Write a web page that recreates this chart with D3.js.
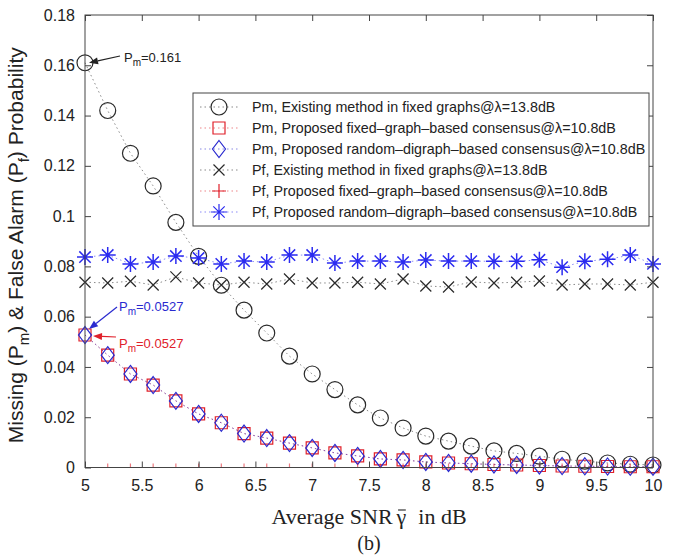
<!DOCTYPE html>
<html>
<head>
<meta charset="utf-8">
<script src="https://cdn.jsdelivr.net/npm/d3@7"></script>
<style>
  body { margin: 0; background: #fff; }
  svg { display: block; }
</style>
</head>
<body>
<svg id="svg"></svg>
<script>
// SNR sweep, 5 dB to 10 dB in 0.2 dB steps
const snr = [5, 5.2, 5.4, 5.6, 5.8, 6, 6.2, 6.4, 6.6, 6.8, 7, 7.2, 7.4, 7.6, 7.8,
             8, 8.2, 8.4, 8.6, 8.8, 9, 9.2, 9.4, 9.6, 9.8, 10];

const pmExisting = [0.161, 0.142, 0.125, 0.112, 0.0975, 0.084, 0.0725, 0.0626, 0.0535, 0.0443,
                    0.0372, 0.031, 0.0249, 0.0197, 0.0157, 0.0125, 0.0105, 0.0085, 0.0066, 0.0056,
                    0.0045, 0.0033, 0.0025, 0.0018, 0.0013, 0.001];
const pmFixed = [0.0527, 0.0447, 0.0372, 0.0328, 0.0265, 0.0213, 0.0178, 0.0135, 0.0117, 0.0097,
                 0.0078, 0.0058, 0.0046, 0.0034, 0.003, 0.0022, 0.0018, 0.0015, 0.0012, 0.001,
                 0.0008, 0.0006, 0.0005, 0.0004, 0.0003, 0.0003];
const pmRandom = pmFixed.slice();
const pfExisting = [0.0737, 0.0734, 0.0741, 0.0726, 0.0758, 0.0734, 0.0726, 0.0737, 0.073, 0.075,
                    0.0734, 0.0734, 0.0737, 0.073, 0.075, 0.0722, 0.0718, 0.0738, 0.0734, 0.0737,
                    0.0742, 0.0726, 0.073, 0.073, 0.0726, 0.0737];
const pfFixed = snr.map(() => 0);
const pfRandom = [0.0837, 0.0845, 0.081, 0.0817, 0.0841, 0.0833, 0.081, 0.0821, 0.0817, 0.0845,
                  0.0845, 0.0813, 0.0821, 0.0821, 0.0817, 0.0825, 0.0821, 0.0821, 0.082, 0.082,
                  0.0826, 0.0797, 0.082, 0.0828, 0.0845, 0.081];

const xTicks = [5, 5.5, 6, 6.5, 7, 7.5, 8, 8.5, 9, 9.5, 10];
const yTicks = [0, 0.02, 0.04, 0.06, 0.08, 0.1, 0.12, 0.14, 0.16, 0.18];

const legendLabels = [
  "Pm, Existing method in fixed graphs@λ=13.8dB",
  "Pm, Proposed fixed–graph–based consensus@λ=10.8dB",
  "Pm, Proposed random–digraph–based consensus@λ=10.8dB",
  "Pf, Existing method in fixed graphs@λ=13.8dB",
  "Pf, Proposed fixed–graph–based consensus@λ=10.8dB",
  "Pf, Proposed random–digraph–based consensus@λ=10.8dB"
];

let layout = {"width": 673, "height": 558,
              "left": 85, "right": 653, "top": 15, "bottom": 467.5};

const svg = d3.select("#svg").attr("width", layout.width).attr("height", layout.height);

svg.append("clipPath").attr("id", "plotClip")
  .append("rect")
  .attr("x", layout.left).attr("y", layout.top)
  .attr("width", layout.right - layout.left).attr("height", layout.bottom - layout.top);

const xScale = d3.scaleLinear().domain([5, 10]).range([layout.left, layout.right]);
const yScale = d3.scaleLinear().domain([0, 0.18]).range([layout.bottom, layout.top]);

const series = [
  {values: pmExisting, color: "#2a2a2a", marker: "circle"},
  {values: pmFixed,    color: "#e0202a", marker: "square"},
  {values: pmRandom,   color: "#2a2acf", marker: "diamond"},
  {values: pfExisting, color: "#2a2a2a", marker: "x"},
  {values: pfFixed,    color: "#e0202a", marker: "plus"},
  {values: pfRandom,   color: "#2b2bf0", marker: "star"}
];

// marker path generators, centered on 0,0
function markerPath(type, legendSize) {
  switch (type) {
    case "circle": return d3.symbol(d3.symbolCircle, 200)();
    case "square": return "M-6,-6H6V6H-6Z";
    case "diamond": return "M0,-8.5L6.5,0L0,8.5L-6.5,0Z";
    case "x": return "M-5.5,-5.5L5.5,5.5M-5.5,5.5L5.5,-5.5";
    case "plus": return legendSize ? "M-7,0H7M0,-7V7" : "M-4,0H4M0,-4V4";
    case "star": return "M-8,0H8M0,-8V8M-5.7,-5.7L5.7,5.7M-5.7,5.7L5.7,-5.7";
  }
}

const line = d3.line().x((d, i) => xScale(snr[i])).y(d => yScale(d));

const marks = svg.append("g").attr("id", "mark");

series.forEach((s, k) => {
  marks.append("path")
    .datum(s.values)
    .attr("d", line)
    .attr("fill", "none")
    .attr("stroke", s.color)
    .attr("stroke-opacity", 0.55)
    .attr("stroke-width", 1)
    .attr("stroke-dasharray", "1.5,3");

  const g = marks.append("g");
  if (s.marker === "plus") g.attr("clip-path", "url(#plotClip)");
  g.selectAll(".m" + k)
    .data(s.values)
    .join("path")
    .attr("class", "m" + k)
    .attr("transform", (d, i) => `translate(${xScale(snr[i])},${yScale(d)})`)
    .attr("d", markerPath(s.marker))
    .attr("fill", "none")
    .attr("stroke", s.color)
    .attr("stroke-opacity", s.marker === "plus" ? 0.6 : 1)
    .attr("stroke-width", s.marker === "star" ? 1.5 : 1.2);
});

// axes box with inward ticks on all four sides
const axisColor = "#444";
const axes = svg.append("g").attr("id", "axes");
axes.append("rect")
  .attr("x", layout.left).attr("y", layout.top)
  .attr("width", layout.right - layout.left).attr("height", layout.bottom - layout.top)
  .attr("fill", "none").attr("stroke", axisColor).attr("stroke-width", 1);

axes.append("g")
  .attr("transform", `translate(0,${layout.bottom})`)
  .call(d3.axisBottom(xScale).tickValues(xTicks).tickSizeInner(-6).tickSizeOuter(0).tickPadding(12).tickFormat(d3.format("")))
  .call(g => g.select(".domain").remove());
axes.append("g")
  .attr("transform", `translate(0,${layout.top})`)
  .call(d3.axisTop(xScale).tickValues(xTicks).tickSizeInner(-6).tickSizeOuter(0).tickFormat(""))
  .call(g => g.select(".domain").remove());
axes.append("g")
  .attr("transform", `translate(${layout.left},0)`)
  .call(d3.axisLeft(yScale).tickValues(yTicks).tickSizeInner(-6).tickSizeOuter(0).tickPadding(10).tickFormat(d3.format("")))
  .call(g => g.select(".domain").remove());
axes.append("g")
  .attr("transform", `translate(${layout.right},0)`)
  .call(d3.axisRight(yScale).tickValues(yTicks).tickSizeInner(-6).tickSizeOuter(0).tickFormat(""))
  .call(g => g.select(".domain").remove());

axes.selectAll(".tick line").attr("stroke", axisColor);
axes.selectAll(".tick text")
  .attr("fill", "#222")
  .attr("font-family", "Liberation Sans, Arial, sans-serif")
  .attr("font-size", 16);

// axis titles
const yTitle = svg.append("text")
  .attr("transform", `translate(23,${(layout.top + layout.bottom) / 2 + 4}) rotate(-90)`)
  .attr("text-anchor", "middle")
  .attr("font-family", "Liberation Sans, Arial, sans-serif")
  .attr("font-size", 21)
  .attr("fill", "#222");
yTitle.append("tspan").text("Missing (P");
yTitle.append("tspan").attr("font-size", 15).attr("dy", 6).text("m");
yTitle.append("tspan").attr("dy", -6).text(") & False Alarm (P");
yTitle.append("tspan").attr("font-size", 15).attr("dy", 6).text("f");
yTitle.append("tspan").attr("dy", -6).text(") Probability");

const xTitleY = 524;
const xTitle = svg.append("text")
  .attr("x", (layout.left + layout.right) / 2).attr("y", xTitleY)
  .attr("text-anchor", "middle")
  .attr("font-family", "Liberation Serif, Times New Roman, serif")
  .attr("font-size", 22)
  .attr("fill", "#222");
xTitle.append("tspan").text("Average SNR");
xTitle.append("tspan").attr("dx", 4).text("γ");
xTitle.append("tspan").attr("dx", 12).text("in dB");

// bar over the gamma
const gExt = xTitle.node().getExtentOfChar(11);
svg.append("line")
  .attr("x1", gExt.x + 1.5).attr("x2", gExt.x + gExt.width - 0.5)
  .attr("y1", xTitleY - 14).attr("y2", xTitleY - 14)
  .attr("stroke", "#222").attr("stroke-width", 1.1);

svg.append("text")
  .attr("x", (layout.left + layout.right) / 2).attr("y", 550)
  .attr("text-anchor", "middle")
  .attr("font-family", "Liberation Serif, Times New Roman, serif")
  .attr("font-size", 20)
  .attr("fill", "#222")
  .text("(b)");

// legend
const legend = svg.append("g").attr("id", "legend");
legend.append("rect")
  .attr("x", 193).attr("y", 93).attr("width", 456).attr("height", 133)
  .attr("fill", "#fff").attr("stroke", axisColor).attr("stroke-width", 1);

series.forEach((s, i) => {
  const cy = 107 + i * 21;
  legend.append("line")
    .attr("x1", 200).attr("x2", 238).attr("y1", cy).attr("y2", cy)
    .attr("stroke", s.color).attr("stroke-opacity", 0.55)
    .attr("stroke-dasharray", "1.5,3");
  legend.append("path")
    .attr("transform", `translate(219,${cy})`)
    .attr("d", markerPath(s.marker, true))
    .attr("fill", "none").attr("stroke", s.color).attr("stroke-width", 1.2);
  legend.append("text")
    .attr("x", 252).attr("y", cy + 5)
    .attr("font-family", "Liberation Sans, Arial, sans-serif")
    .attr("font-size", 14.3)
    .attr("fill", "#222")
    .text(legendLabels[i]);
});

// value callouts with arrows
function callout(text, color, tx, ty, px, py, ax, ay) {
  const t = svg.append("text")
    .attr("x", tx).attr("y", ty)
    .attr("font-family", "Liberation Sans, Arial, sans-serif")
    .attr("font-size", 13)
    .attr("fill", color);
  t.append("tspan").text("P");
  t.append("tspan").attr("font-size", 10).attr("dy", 4).text("m");
  t.append("tspan").attr("dy", -4).text(text);

  const ang = Math.atan2(py - ay, px - ax);
  const hl = 9, hw = 3.5;
  const bx = px - hl * Math.cos(ang), by = py - hl * Math.sin(ang);
  svg.append("line")
    .attr("x1", ax).attr("y1", ay).attr("x2", bx).attr("y2", by)
    .attr("stroke", color).attr("stroke-width", 1.2);
  svg.append("path")
    .attr("d", `M${px},${py}L${bx + hw * Math.sin(ang)},${by - hw * Math.cos(ang)}L${bx - hw * Math.sin(ang)},${by + hw * Math.cos(ang)}Z`)
    .attr("fill", color);
}

callout("=0.161", "#222", 124, 62, xScale(5) + 4, yScale(pmExisting[0]), 120, 56);
callout("=0.0527", "#2a2acf", 119, 311, xScale(5) + 4, yScale(pmRandom[0]) - 6, 117, 307);
callout("=0.0527", "#e0202a", 119, 348, xScale(5) + 8, yScale(pmFixed[0]) + 1, 116, 337);
</script>
</body>
</html>
